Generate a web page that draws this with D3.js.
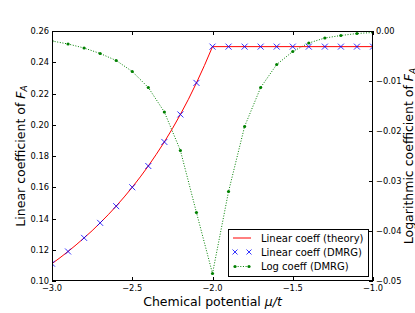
<!DOCTYPE html>
<html><head><meta charset="utf-8">
<script src="https://cdn.jsdelivr.net/npm/d3@7"></script>
<style>body{margin:0;background:#fff}svg{display:block;font-family:"DejaVu Sans",sans-serif}</style>
</head><body>
<svg id="c" width="415" height="313"></svg>
<script>
// ---- data ----
const theoryMu = [-3.00,-2.95,-2.90,-2.85,-2.80,-2.75,-2.70,-2.65,-2.60,-2.55,-2.50,-2.45,-2.40,-2.35,-2.30,-2.25,-2.20,-2.15,-2.10,-2.05,-2.00,-1.00];
const theoryLin = [0.1111,0.1149,0.1189,0.1231,0.1276,0.1322,0.1372,0.1424,0.1479,0.1538,0.1600,0.1666,0.1736,0.1811,0.1890,0.1975,0.2066,0.2163,0.2268,0.2380,0.2500,0.2500];
const dmrgMu = [-3.0,-2.9,-2.8,-2.7,-2.6,-2.5,-2.4,-2.3,-2.2,-2.1,-2.0,-1.9,-1.8,-1.7,-1.6,-1.5,-1.4,-1.3,-1.2,-1.1,-1.0];
const dmrgLin = [0.1111,0.1189,0.1276,0.1372,0.1479,0.1600,0.1736,0.1890,0.2066,0.2268,0.2500,0.2500,0.2500,0.2500,0.2500,0.2500,0.2500,0.2500,0.2500,0.2500,0.2500];
const dmrgLog = [-0.0020,-0.0026,-0.0034,-0.0045,-0.0059,-0.0081,-0.0113,-0.0162,-0.0239,-0.0363,-0.0485,-0.0321,-0.0191,-0.0113,-0.0067,-0.0041,-0.0024,-0.0014,-0.0009,-0.0005,-0.0003];
const xTicks = [-3.0,-2.5,-2.0,-1.5,-1.0];
const yLeftTicks = [0.10,0.12,0.14,0.16,0.18,0.20,0.22,0.24,0.26];
const yRightTicks = [0.00,-0.01,-0.02,-0.03,-0.04,-0.05];
const legendLabels = ["Linear coeff (theory)","Linear coeff (DMRG)","Log coeff (DMRG)"];

// ---- layout ----
const L=52, R=373, T=31, B=281;
const svg = d3.select("#c");
const x = d3.scaleLinear().domain([-3,-1]).range([L,R]);
const yL = d3.scaleLinear().domain([0.10,0.26]).range([B,T]);
const yR = d3.scaleLinear().domain([-0.05,0]).range([B,T]);
const minus = s => s.replace("-","\u2212");

svg.append("defs").append("clipPath").attr("id","clip")
  .append("rect").attr("x",L).attr("y",T).attr("width",R-L).attr("height",B-T);
const g = svg.append("g").attr("clip-path","url(#clip)");

// green log coeff
const logData = dmrgMu.map((m,i)=>[m,dmrgLog[i]]);
g.append("path").datum(logData)
  .attr("d", d3.line().x(d=>x(d[0])).y(d=>yR(d[1])))
  .attr("fill","none").attr("stroke","#008000").attr("stroke-width",1).attr("stroke-dasharray","1,1.65");
g.selectAll("circle.lg").data(logData).enter().append("circle")
  .attr("cx",d=>x(d[0])).attr("cy",d=>yR(d[1])).attr("r",1.6).attr("fill","#008000");

// red theory line
const thData = theoryMu.map((m,i)=>[m,theoryLin[i]]);
g.append("path").datum(thData)
  .attr("d", d3.line().x(d=>x(d[0])).y(d=>yL(d[1])))
  .attr("fill","none").attr("stroke","#ff0000").attr("stroke-width",1);

// blue crosses
const cross = (sel,cx,cy,s)=>{
  sel.append("path").attr("d",`M${cx-s},${cy-s}L${cx+s},${cy+s}M${cx-s},${cy+s}L${cx+s},${cy-s}`)
    .attr("stroke","#0000ff").attr("stroke-width",0.8).attr("fill","none");
};
dmrgMu.forEach((m,i)=>cross(g,x(m),yL(dmrgLin[i]),3));

// spines
const ax = svg.append("g").attr("stroke","#000").attr("stroke-width",1);
ax.append("rect").attr("x",L+0.5).attr("y",T+0.5).attr("width",R-L-1).attr("height",B-T-1).attr("fill","none");

// ticks
const tl=4;
xTicks.forEach(v=>{
  const px=Math.round(x(v))+0.5;
  ax.append("line").attr("x1",px).attr("x2",px).attr("y1",B).attr("y2",B-tl);
  ax.append("line").attr("x1",px).attr("x2",px).attr("y1",T).attr("y2",T+tl);
  svg.append("text").attr("x",x(v)).attr("y",B+10).attr("text-anchor","middle")
    .attr("font-size",8.3).text(minus(v.toFixed(1)));
});
yLeftTicks.forEach(v=>{
  const py=Math.round(yL(v))+0.5;
  ax.append("line").attr("x1",L).attr("x2",L+tl).attr("y1",py).attr("y2",py);
  svg.append("text").attr("x",L-3).attr("y",yL(v)+3).attr("text-anchor","end")
    .attr("font-size",8.3).text(v.toFixed(2));
});
yRightTicks.forEach(v=>{
  const py=Math.round(yR(v))+0.5;
  ax.append("line").attr("x1",R).attr("x2",R-tl).attr("y1",py).attr("y2",py);
  svg.append("text").attr("x",R+3).attr("y",yR(v)+3).attr("text-anchor","start")
    .attr("font-size",8.3).text(minus(v.toFixed(2)));
});

// axis labels
const xl = svg.append("text").attr("x",(L+R)/2).attr("y",306).attr("text-anchor","middle").attr("font-size",12.5);
xl.append("tspan").text("Chemical potential ");
xl.append("tspan").attr("font-style","italic").text("\u03bc/t");

function ylab(xp, txt){
  const t = svg.append("text").attr("transform",`translate(${xp},${(T+B)/2}) rotate(-90)`)
    .attr("text-anchor","middle").attr("font-size",12.5);
  t.append("tspan").text(txt);
  t.append("tspan").attr("font-style","italic").text("F");
  t.append("tspan").attr("font-style","italic").attr("font-size",9).attr("dy",2.5).text("A");
}
ylab(24.5,"Linear coefficient of ");
ylab(413,"Logarithmic coefficient of ");

// legend
const lg = svg.append("g");
lg.append("rect").attr("x",228.5).attr("y",229.5).attr("width",140).attr("height",47)
  .attr("fill","#fff").attr("stroke","#000").attr("stroke-width",1);
const rows=[238,252,266.5];
lg.append("line").attr("x1",233).attr("x2",251).attr("y1",rows[0]).attr("y2",rows[0]).attr("stroke","#ff0000");
cross(lg,235,rows[1],2.5); cross(lg,249,rows[1],2.5);
lg.append("line").attr("x1",235).attr("x2",249).attr("y1",rows[2]).attr("y2",rows[2])
  .attr("stroke","#008000").attr("stroke-dasharray","1,1.65");
[235,249].forEach(cx=>lg.append("circle").attr("cx",cx).attr("cy",rows[2]).attr("r",1.6).attr("fill","#008000"));
legendLabels.forEach((s,i)=>lg.append("text").attr("x",261).attr("y",rows[i]+3.6).attr("font-size",10).text(s));
</script>
</body></html>
